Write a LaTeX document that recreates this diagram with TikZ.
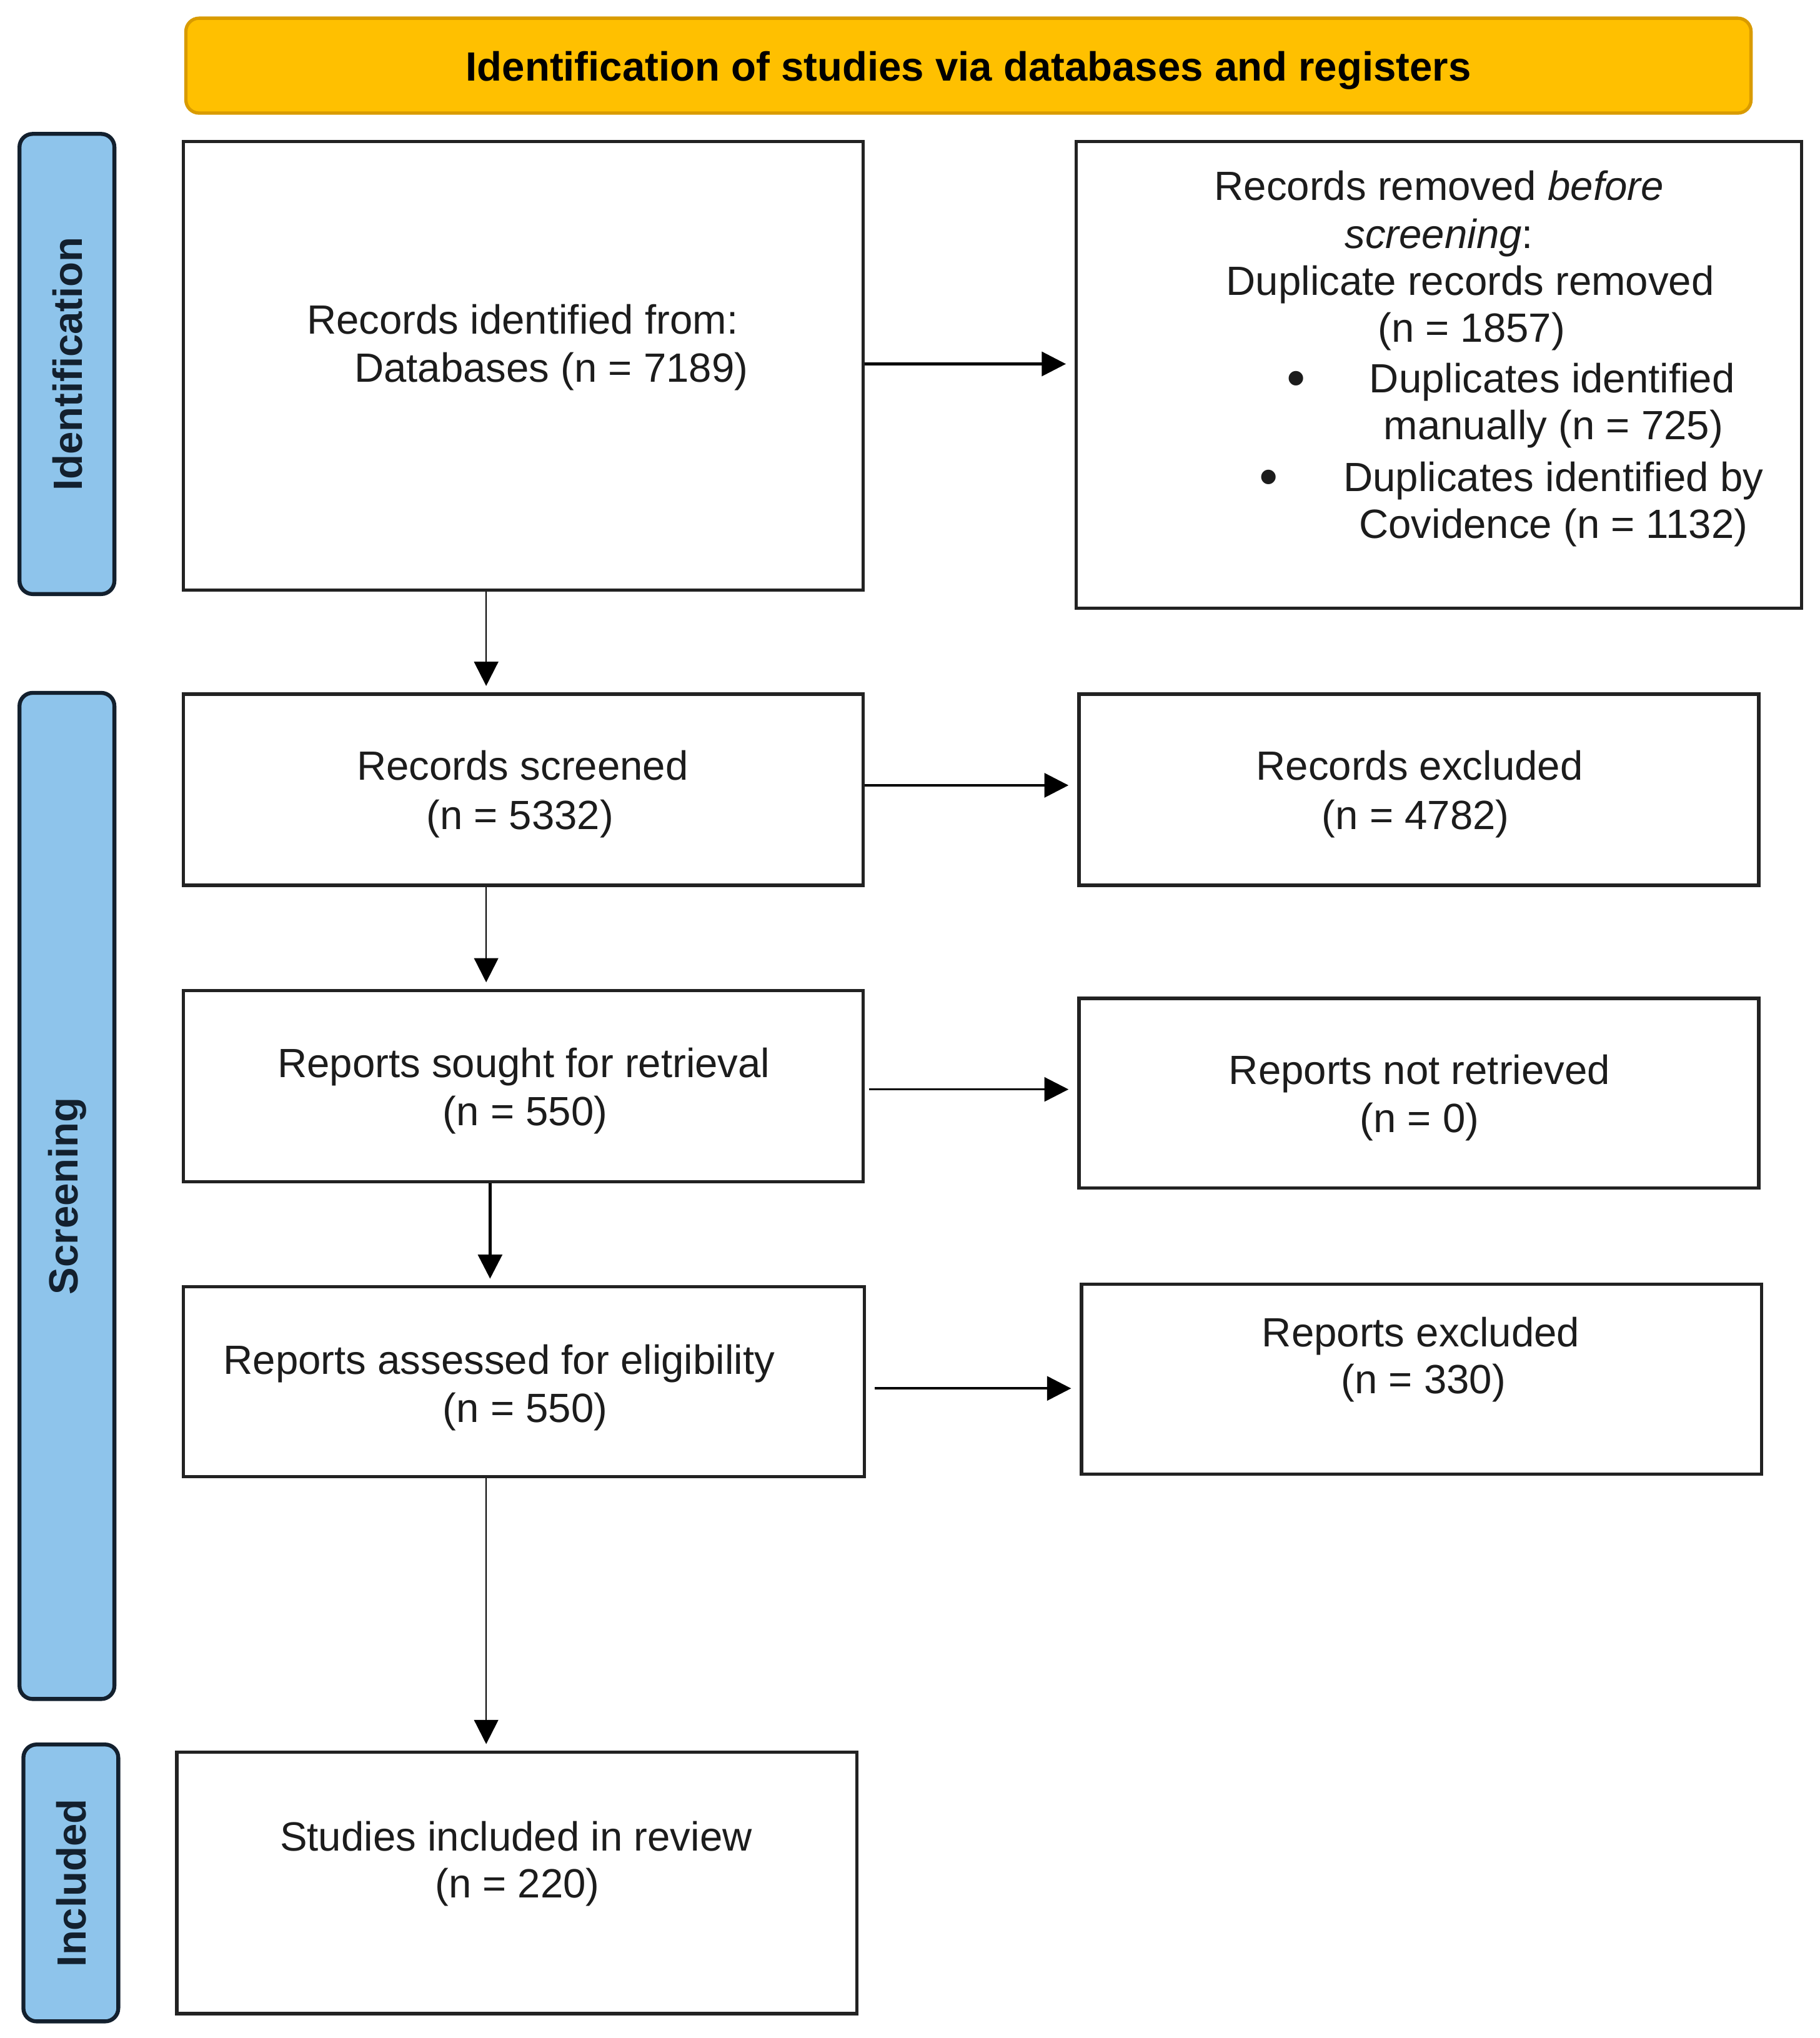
\documentclass[tikz,border=0pt]{standalone}
\usepackage{fontspec}
\setmainfont{Liberation Sans}
\usetikzlibrary{arrows.meta}
\def\uu{0.020807cm}
\definecolor{hdrfill}{HTML}{FFC000}
\definecolor{hdrline}{HTML}{D99B00}
\definecolor{sidefill}{HTML}{8EC4EB}
\definecolor{sideline}{HTML}{13202E}
\definecolor{boxline}{HTML}{222222}
\definecolor{txtcol}{HTML}{1C1C1C}
\begin{document}
\begin{tikzpicture}[x=\uu, y=-\uu,
 font=\fontsize{18.6pt}{21.6pt}\selectfont,
 box/.style={draw=boxline, line width=1.5pt, fill=white, rectangle, inner sep=0pt},
 side/.style={draw=sideline, fill=sidefill, line width=1.8pt, rounded corners=6pt, rectangle, inner sep=0pt},
 txt/.style={anchor=base, inner sep=0pt, text=txtcol},
 bul/.style={txt, font=\fontsize{23pt}{24pt}\selectfont\bfseries},
 sidetxt/.style={rotate=90, inner sep=0pt, font=\fontsize{18.6pt}{21.6pt}\selectfont\bfseries, text=sideline},
 arr/.style={-{Triangle[length=11pt,width=11pt]}, line width=1.2pt, draw=black},
 harr/.style={arr, shorten >=4pt},
 varr/.style={arr, shorten >=3pt},
 thinarr/.style={varr, line width=0.7pt},
]
\useasboundingbox (0,0) rectangle (1400,1567.8);

% header
\node[draw=hdrline, fill=hdrfill, line width=1.5pt, rounded corners=6pt, rectangle, inner sep=0pt,
      minimum width=1204*\uu, minimum height=73*\uu] (hdr) at (745,50.5) {};
\node[txt, font=\fontsize{18.6pt}{21.6pt}\selectfont\bfseries, text=black] (hdrtxt) at (745,62)
  {Identification of studies via databases and registers};

% side bars
\node[side, minimum width=73*\uu, minimum height=354*\uu] (s1) at (51.5,280) {};
\node[sidetxt] (s1t) at (52,280) {Identification};
\node[side, minimum width=73*\uu, minimum height=774*\uu] (s2) at (51.5,920) {};
\node[sidetxt] (s2t) at (52,920) {Screening};
\node[side, minimum width=73*\uu, minimum height=213*\uu] (s3) at (54.5,1448.5) {};
\node[sidetxt] (s3t) at (55,1448.5) {Included};

% boxes
\node[box, minimum width=523*\uu, minimum height=345*\uu] (b1) at (402.5,281.5) {};
\node[box, minimum width=558*\uu, minimum height=359*\uu] (b2) at (1107,288.5) {};
\node[box, minimum width=523*\uu, minimum height=147*\uu] (b3) at (402.5,607.5) {};
\node[box, minimum width=523*\uu, minimum height=147*\uu] (b4) at (1091.5,607.5) {};
\node[box, minimum width=523*\uu, minimum height=147*\uu] (b5) at (402.5,835.5) {};
\node[box, minimum width=523*\uu, minimum height=146*\uu] (b6) at (1091.5,841) {};
\node[box, minimum width=524*\uu, minimum height=146*\uu] (b7) at (403,1063) {};
\node[box, minimum width=523*\uu, minimum height=146*\uu] (b8) at (1093.5,1061) {};
\node[box, minimum width=523*\uu, minimum height=201*\uu] (b9) at (397.5,1448.5) {};

% texts
\node[txt] (t1a) at (402,257) {Records identified from:};
\node[txt] (t1b) at (424,294) {Databases (n = 7189)};

\node[txt] (t2a) at (1107,154) {Records removed \textit{before}};
\node[txt] (t2b) at (1107,191) {\textit{screening}:};
\node[txt] (t2c) at (1131,227) {Duplicate records removed};
\node[txt] (t2d) at (1132,263) {(n = 1857)};
\node[bul] (t2e) at (997,304) {•};
\node[txt] (t2f) at (1194,302) {Duplicates identified};
\node[txt] (t2g) at (1195,338) {manually (n = 725)};
\node[bul] (t2h) at (976,380) {•};
\node[txt] (t2i) at (1195,378) {Duplicates identified by};
\node[txt] (t2j) at (1195,414) {Covidence (n = 1132)};

\node[txt] (t3a) at (402,600) {Records screened};
\node[txt] (t3b) at (400,638) {(n = 5332)};
\node[txt] (t4a) at (1092,600) {Records excluded};
\node[txt] (t4b) at (1089,638) {(n = 4782)};
\node[txt] (t5a) at (403,829) {Reports sought for retrieval};
\node[txt] (t5b) at (404,866) {(n = 550)};
\node[txt] (t6a) at (1092,834) {Reports not retrieved};
\node[txt] (t6b) at (1092,871) {(n = 0)};
\node[txt] (t7a) at (384,1057) {Reports assessed for eligibility};
\node[txt] (t7b) at (404,1094) {(n = 550)};
\node[txt] (t8a) at (1093,1036) {Reports excluded};
\node[txt] (t8b) at (1095,1072) {(n = 330)};
\node[txt] (t9a) at (397,1424) {Studies included in review};
\node[txt] (t9b) at (398,1460) {(n = 220)};

% connectors
\coordinate (cxa) at (374,0);
\coordinate (cxb) at (377,0);
\draw[harr] ([yshift=0.9pt]b1.east) -- ([yshift=0.9pt]b1.east -| b2.west);
\draw[harr] ([yshift=2pt]b3.east) -- ([yshift=2pt]b3.east -| b4.west);
\draw[harr, line width=1pt, shorten <=2pt] ([yshift=-1.5pt]b5.east) -- ([yshift=-1.5pt]b5.east -| b6.west);
\draw[harr, shorten <=4pt] ([yshift=-3pt]b7.east) -- ([yshift=-3pt]b7.east -| b8.west);
\draw[thinarr] (b1.south -| cxa) -- (b3.north -| cxa);
\draw[thinarr] (b3.south -| cxa) -- (b5.north -| cxa);
\draw[varr] (b5.south -| cxb) -- (b7.north -| cxb);
\draw[thinarr] (b7.south -| cxa) -- (b9.north -| cxa);
\end{tikzpicture}
\end{document}
